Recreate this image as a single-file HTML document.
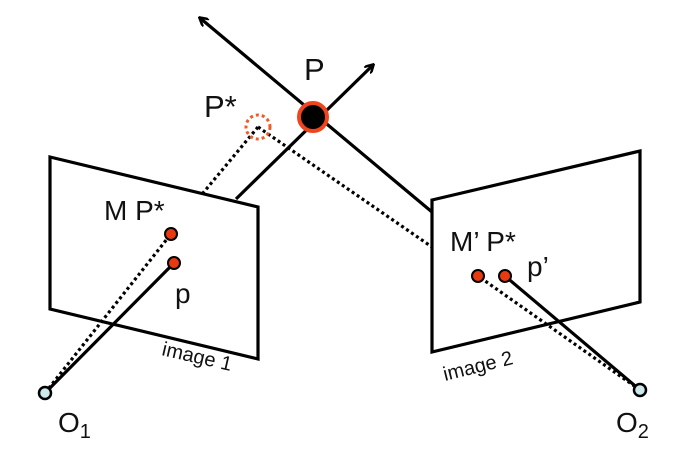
<!DOCTYPE html>
<html><head><style>html,body{margin:0;padding:0;background:#fff}svg{display:block}text{font-family:"Liberation Sans",sans-serif;fill:#111}</style></head>
<body>
<svg width="689" height="456" viewBox="0 0 689 456" xmlns="http://www.w3.org/2000/svg">
<defs><marker id="ah" markerWidth="10" markerHeight="10" refX="8" refY="5" orient="auto" markerUnits="userSpaceOnUse"><path d="M0,0 L9,5 L0,10" fill="none" stroke="#000" stroke-width="2.5"/></marker></defs>
<g stroke="#000" stroke-width="3.2" fill="none">
<polygon points="50,157 258,207 258,359 50,309"/>
<polygon points="432,200 640,151 640,302 432,352"/>
<line x1="432" y1="212" x2="200" y2="18" marker-end="url(#ah)"/>
<line x1="236" y1="199" x2="373" y2="65" marker-end="url(#ah)"/>
<line x1="45" y1="393" x2="174" y2="263"/>
<line x1="640" y1="390" x2="505" y2="276"/>
</g>
<g stroke="#000" stroke-width="3.2" fill="none" stroke-dasharray="3 3">
<line x1="258" y1="127" x2="203" y2="193"/>
<line x1="258" y1="127" x2="432" y2="247"/>
<line x1="45" y1="393" x2="171" y2="234"/>
<line x1="640" y1="390" x2="478" y2="276"/>
</g>
<circle cx="258" cy="127" r="12" fill="none" stroke="#f05a28" stroke-width="3" stroke-dasharray="3 3"/>
<circle cx="313" cy="117" r="14" fill="#000" stroke="#f0441c" stroke-width="4"/>
<g fill="#e83a10" stroke="#000" stroke-width="2">
<circle cx="171" cy="234" r="6"/><circle cx="174" cy="263" r="6"/>
<circle cx="478" cy="276" r="6"/><circle cx="505" cy="276" r="6"/>
</g>
<g fill="#cfe9ea" stroke="#000" stroke-width="2.5">
<circle cx="45" cy="393" r="6"/><circle cx="640" cy="390" r="6"/>
</g>
<text x="304" y="80" font-size="31">P</text>
<text x="204" y="117" font-size="31">P*</text>
<text x="104" y="220" font-size="28">M P*</text>
<text x="175" y="303" font-size="28">p</text>
<text x="450" y="251" font-size="28">M’ P*</text>
<text x="527" y="276" font-size="28">p’</text>
<text x="58" y="432" font-size="28">O<tspan font-size="20" dy="6">1</tspan></text>
<text x="616" y="432" font-size="28">O<tspan font-size="20" dy="6">2</tspan></text>
<text x="0" y="0" font-size="20" transform="translate(161,355) rotate(13)">image 1</text>
<text x="0" y="0" font-size="20" transform="translate(445,381) rotate(-14)">image 2</text>
</svg>
</body></html>
